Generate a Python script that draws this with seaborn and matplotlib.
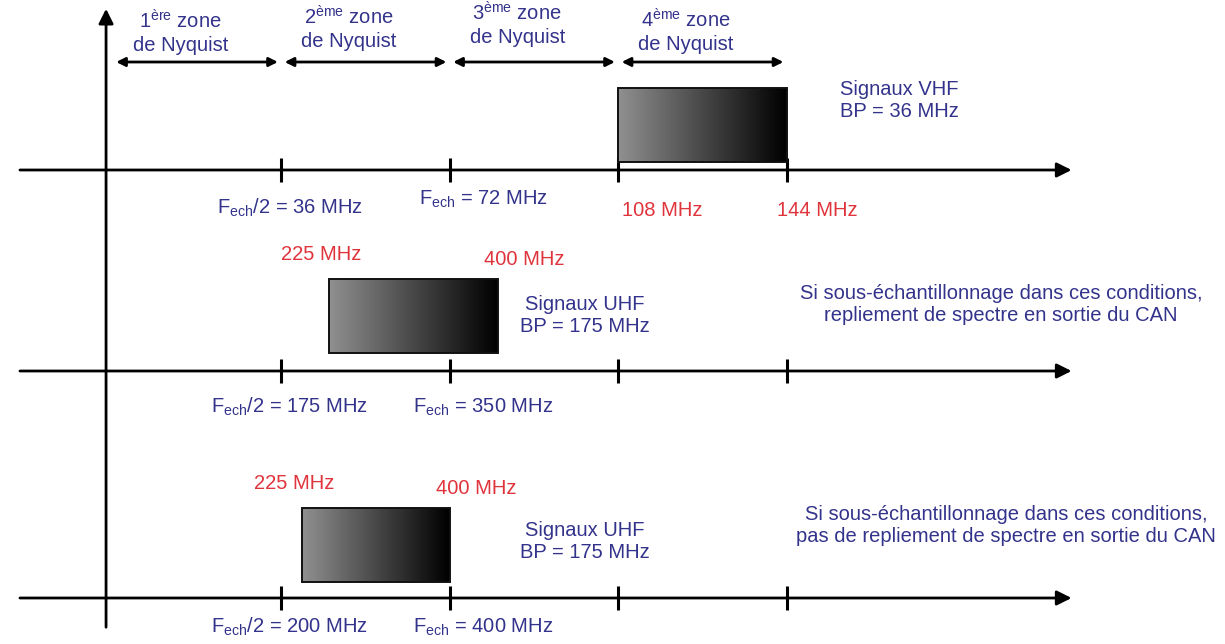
import numpy as np
import matplotlib
matplotlib.use('Agg')
import matplotlib.pyplot as plt
import seaborn as sns
from matplotlib.colors import LinearSegmentedColormap
from matplotlib.patches import Rectangle

# données du schéma (fréquences en MHz)
demi_fech = [36, 175, 200]
bande_min = [108, 225, 225]
bande_max = [144, 400, 400]
zones = [1, 2, 3, 4]
zone_num = ['1', '2', '3', '4']
zone_suffixe = ['ère', 'ème', 'ème', 'ème']
label_fech2 = ['36 MHz', '175 MHz', '200 MHz']
label_fech = ['72 MHz', '350 MHz', '400 MHz']
signaux = ['Signaux VHF\nBP = 36 MHz',
           'Signaux UHF\nBP = 175 MHz',
           'Signaux UHF\nBP = 175 MHz']
commentaires = ['',
                'Si sous-échantillonnage dans ces conditions,\nrepliement de spectre en sortie du CAN',
                'Si sous-échantillonnage dans ces conditions,\npas de repliement de spectre en sortie du CAN']

BLEU = '#33338c'
ROUGE = '#e0343c'

sns.set_theme(style='white')
plt.rcParams['font.family'] = ['Liberation Sans', 'DejaVu Sans']
plt.rcParams['mathtext.fontset'] = 'custom'
plt.rcParams['mathtext.rm'] = 'Liberation Sans'
plt.rcParams['mathtext.it'] = 'Liberation Sans'

fig = plt.figure(figsize=(12.25, 6.44), dpi=100)
ax = fig.add_axes([0, 0, 1, 1])
# x en unités de Fech/2 (zones de Nyquist), y en pixels
ax.set_xlim(-0.6694, 6.6006)
ax.set_ylim(644, 0)
ax.axis('off')

fs = 14.5
cmap = LinearSegmentedColormap.from_list('grad', ['#909090', '#000000'])
grad = np.linspace(0, 1, 256).reshape(1, -1)

# axe vertical
ax.annotate('', xy=(-0.04, 6), xytext=(-0.04, 630),
            arrowprops=dict(arrowstyle='-|>', lw=2, color='black', mutation_scale=22))

# zones de Nyquist en haut
zone_y = [32, 28, 24, 31]
for z, num, suf, ty in zip(zones, zone_num, zone_suffixe, zone_y):
    ax.annotate('', xy=(z - 0.02, 62), xytext=(z - 1 + 0.02, 62),
                arrowprops=dict(arrowstyle='<|-|>', lw=2, color='black',
                                mutation_scale=13, shrinkA=0, shrinkB=0))
    ax.text(z - 0.6, ty, num + r'$^{\mathrm{' + suf + '}}$ zone\nde Nyquist',
            ha='center', va='center', color=BLEU, fontsize=fs, linespacing=1.25)

y_axe = [170, 371, 598]
box_bas = [162, 353, 582]
box_h = 74
label_dy = [38, 36, 29]
signaux_pos = [(4.67, 100), (2.80, 315), (2.80, 541)]
comm_pos = [(5.3, 0), (5.27, 304), (5.30, 526)]

for i in range(3):
    y = y_axe[i]
    # axe des fréquences
    ax.annotate('', xy=(5.69, y), xytext=(-0.551, y),
                arrowprops=dict(arrowstyle='-|>', lw=2, color='black',
                                mutation_scale=22, shrinkA=0, shrinkB=0))
    for z in zones:
        ax.plot([z, z], [y - 12, y + 12], color='black', lw=2.2, solid_capstyle='butt')

    # bande du signal
    lo = bande_min[i] / demi_fech[i]
    hi = bande_max[i] / demi_fech[i]
    bas = box_bas[i]
    haut = bas - box_h
    ax.imshow(grad, cmap=cmap, aspect='auto', extent=(lo, hi, bas, haut), zorder=2)
    ax.add_patch(Rectangle((lo, haut), hi - lo, box_h, fill=False,
                           edgecolor='#111111', lw=1.4, zorder=3))

    # étiquettes Fech
    dy = label_dy[i]
    ax.text(1.05, y + dy, r'F$_{\mathrm{ech}}$/2 = ' + label_fech2[i],
            ha='center', va='center', color=BLEU, fontsize=fs)
    ax.text(2.2, y + dy - (9 if i == 0 else 0), r'F$_{\mathrm{ech}}$ = ' + label_fech[i],
            ha='center', va='center', color=BLEU, fontsize=fs)

    # fréquences de la bande
    if i == 0:
        ax.text(lo + 0.02, y + 40, f'{bande_min[i]} MHz', ha='left', va='center',
                color=ROUGE, fontsize=fs)
        ax.text(hi - 0.06, y + 40, f'{bande_max[i]} MHz', ha='left', va='center',
                color=ROUGE, fontsize=fs)
    else:
        ax.text(lo - 0.05, haut - 25, f'{bande_min[i]} MHz', ha='center', va='center',
                color=ROUGE, fontsize=fs)
        ax.text(hi - 0.08, haut - 20, f'{bande_max[i]} MHz', ha='left', va='center',
                color=ROUGE, fontsize=fs)

    sx, sy = signaux_pos[i]
    ax.text(sx, sy, signaux[i], ha='center', va='center', color=BLEU,
            fontsize=fs, linespacing=1.2)
    if commentaires[i]:
        cx, cy = comm_pos[i]
        ax.text(cx, cy, commentaires[i], ha='center', va='center', color=BLEU,
                fontsize=fs, linespacing=1.2)

fig.savefig('out.png', dpi=100, facecolor='white')
